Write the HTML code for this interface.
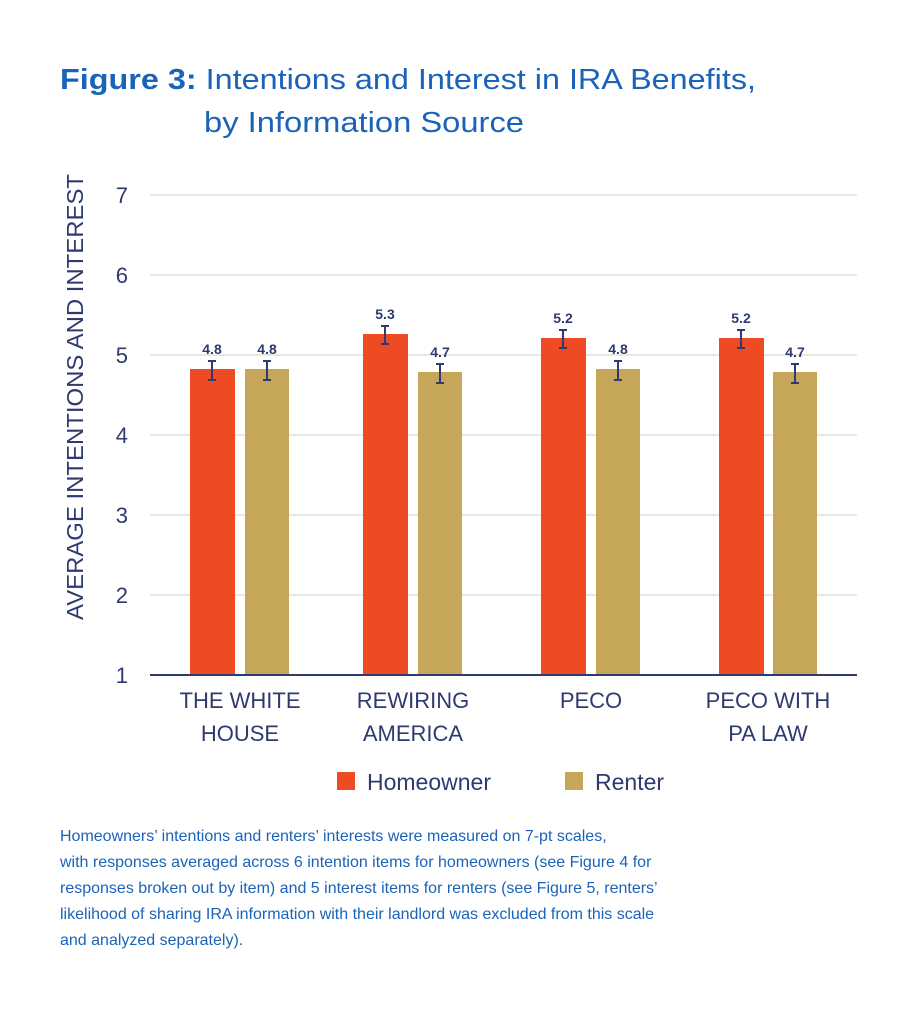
<!DOCTYPE html>
<html><head><style>
body{margin:0;background:#fff;width:917px;height:1024px;overflow:hidden;font-family:"Liberation Sans",sans-serif;}
</style></head><body>
<svg width="917" height="1024" xmlns="http://www.w3.org/2000/svg" font-family="Liberation Sans, sans-serif">
<text x="60" y="89" font-size="29" fill="#1a63b8" textLength="696" lengthAdjust="spacingAndGlyphs"><tspan font-weight="bold">Figure 3:</tspan> Intentions and Interest in IRA Benefits,</text>
<text x="204" y="132" font-size="29" fill="#1a63b8" textLength="320" lengthAdjust="spacingAndGlyphs">by Information Source</text>
<g stroke="#e4e0cf" stroke-width="1.5">
<line x1="150" y1="195" x2="857" y2="195"/><line x1="150" y1="275" x2="857" y2="275"/>
<line x1="150" y1="355" x2="857" y2="355"/><line x1="150" y1="435" x2="857" y2="435"/>
<line x1="150" y1="515" x2="857" y2="515"/><line x1="150" y1="595" x2="857" y2="595"/>
</g>
<g font-size="22" fill="#2e3a70" text-anchor="end">
<text x="128" y="203">7</text><text x="128" y="283">6</text><text x="128" y="363">5</text>
<text x="128" y="443">4</text><text x="128" y="523">3</text><text x="128" y="603">2</text><text x="128" y="683">1</text>
</g>
<text transform="translate(83,397) rotate(-90)" font-size="23" fill="#2e3a70" text-anchor="middle" textLength="446" lengthAdjust="spacingAndGlyphs">AVERAGE INTENTIONS AND INTEREST</text>
<g fill="#ee4a23">
<rect x="190" y="369" width="45" height="306"/><rect x="363" y="334" width="45" height="341"/>
<rect x="541" y="338" width="45" height="337"/><rect x="719" y="338" width="45" height="337"/>
</g>
<g fill="#c6a75a">
<rect x="245" y="369" width="44" height="306"/><rect x="418" y="372" width="44" height="303"/>
<rect x="596" y="369" width="44" height="306"/><rect x="773" y="372" width="44" height="303"/>
</g>
<line x1="150" y1="675" x2="857" y2="675" stroke="#2e3a70" stroke-width="2"/>
<g stroke="#2e3a70" stroke-width="2">
<path d="M212 361v19M208 361h8M208 380h8"/><path d="M267 361v19M263 361h8M263 380h8"/>
<path d="M385 326v18M381 326h8M381 344h8"/><path d="M440 364v19M436 364h8M436 383h8"/>
<path d="M563 330v18M559 330h8M559 348h8"/><path d="M618 361v19M614 361h8M614 380h8"/>
<path d="M741 330v18M737 330h8M737 348h8"/><path d="M795 364v19M791 364h8M791 383h8"/>
</g>
<g font-size="14" font-weight="bold" fill="#2e3a70" text-anchor="middle">
<text x="212" y="354">4.8</text><text x="267" y="354">4.8</text>
<text x="385" y="319">5.3</text><text x="440" y="357">4.7</text>
<text x="563" y="323">5.2</text><text x="618" y="354">4.8</text>
<text x="741" y="323">5.2</text><text x="795" y="357">4.7</text>
</g>
<g font-size="22" fill="#2e3a70" text-anchor="middle">
<text x="240" y="708">THE WHITE</text><text x="240" y="741">HOUSE</text>
<text x="413" y="708">REWIRING</text><text x="413" y="741">AMERICA</text>
<text x="591" y="708">PECO</text>
<text x="768" y="708">PECO WITH</text><text x="768" y="741">PA LAW</text>
</g>
<rect x="337" y="772" width="18" height="18" fill="#ee4a23"/>
<text x="367" y="790" font-size="23" fill="#2e3a70">Homeowner</text>
<rect x="565" y="772" width="18" height="18" fill="#c6a75a"/>
<text x="595" y="790" font-size="23" fill="#2e3a70">Renter</text>
<g font-size="16" fill="#1a63b8">
<text x="60" y="841">Homeowners’ intentions and renters’ interests were measured on 7-pt scales,</text>
<text x="60" y="867">with responses averaged across 6 intention items for homeowners (see Figure 4 for</text>
<text x="60" y="893">responses broken out by item) and 5 interest items for renters (see Figure 5, renters’</text>
<text x="60" y="919">likelihood of sharing IRA information with their landlord was excluded from this scale</text>
<text x="60" y="945">and analyzed separately).</text>
</g>
</svg>
</body></html>
